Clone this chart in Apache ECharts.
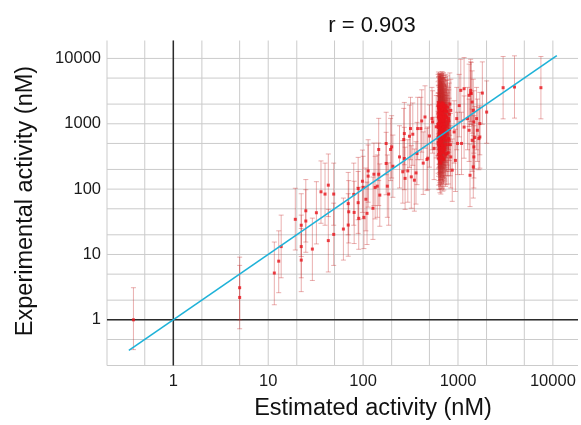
<!DOCTYPE html>
<html>
<head>
<meta charset="utf-8">
<script src="https://cdn.jsdelivr.net/npm/echarts@6/dist/echarts.min.js"></script>
<style>
html,body{margin:0;padding:0;background:#ffffff;}
#chart{width:581px;height:425px;}
</style>
</head>
<body>
<div id="chart"></div>
<script>
// ---- texts ----
const titleText = 'r = 0.903';
const xTitle = 'Estimated activity (nM)';
const yTitle = 'Experimental activity (nM)';

// ---- axis / grid values ----
const xRange = [0.2, 18400];
const yRange = [0.2, 18800];
const xGridValues = [0.2, 0.5, 1, 2, 5, 10, 20, 50, 100, 200, 500, 1000, 2000, 5000, 10000];
const yGridValues = [0.2, 0.5, 1, 2, 5, 10, 20, 50, 100, 200, 500, 1000, 2000, 5000, 10000];
const xRefValues = [1];
const yRefValues = [1];

// ---- identity line (y = x) ----
const identityLine = [[0.34, 0.34], [11000, 11000]];

// ---- observations: [estimated, experimental, errorLow, errorHigh] (nM) ----
const observations = [
  [0.38, 1.0, 0.35, 3.1],
  [5.0, 3.1, 1.0, 9.1],
  [5.0, 2.2, 0.73, 6.8],
  [11.6, 5.2, 1.7, 15.5],
  [12.9, 7.9, 2.6, 23],
  [13.7, 13.2, 4.4, 40],
  [19.3, 34.5, 11.7, 103],
  [22.3, 28, 9.3, 85],
  [22.3, 13.2, 4.4, 40],
  [22.3, 8.2, 2.7, 25],
  [24.9, 46.6, 15.5, 140],
  [24.9, 32.5, 10.8, 98],
  [29.2, 12.1, 4.0, 36],
  [32.2, 43.5, 14.5, 130],
  [36, 91, 30, 270],
  [39.7, 84, 28, 250],
  [43, 115, 38, 345],
  [43, 16.3, 5.4, 49],
  [49, 84, 28, 250],
  [49, 20.3, 6.8, 61],
  [62, 24.5, 8.2, 73],
  [69.7, 28.2, 9.4, 85],
  [70.6, 45, 15, 135],
  [69.7, 60, 20, 180],
  [80.5, 44, 14.7, 132],
  [79.7, 83, 28, 250],
  [88.7, 102, 34, 306],
  [88.7, 62, 21, 186],
  [90, 35.7, 12, 107],
  [98.4, 132, 44, 396],
  [100, 106, 35, 318],
  [102, 37, 12.3, 111],
  [107, 70, 23, 210],
  [110, 42.6, 14.2, 128],
  [113, 190, 63, 570],
  [113, 158, 53, 474],
  [127, 51, 17, 153],
  [130, 169, 56, 507],
  [134, 106, 35, 318],
  [141, 111, 37, 333],
  [146, 404, 135, 1210],
  [150, 81, 27, 243],
  [146, 169, 56, 507],
  [175, 499, 166, 1500],
  [175, 247, 82, 740],
  [180, 111, 37, 333],
  [186, 84, 28, 252],
  [195, 404, 135, 1210],
  [200, 443, 148, 1330],
  [206, 224, 75, 672],
  [242, 311, 104, 933],
  [268, 574, 191, 1720],
  [272, 708, 236, 2120],
  [262, 184, 61, 552],
  [277, 146, 49, 438],
  [296, 190, 63, 570],
  [316, 845, 282, 2540],
  [334, 692, 231, 2080],
  [322, 154, 51, 462],
  [361, 177, 59, 531],
  [347, 137, 46, 411],
  [370, 351, 117, 1050],
  [376, 845, 282, 2540],
  [471, 284, 95, 852],
  [449, 1270, 423, 3810],
  [272, 294, 98, 882],
  [308, 644, 215, 1930],
  [415, 1104, 368, 3310],
  [532, 1200, 400, 3600],
  [406, 845, 282, 2540],
  [540, 1066, 355, 3200],
  [480, 297, 99, 891],
  [430, 250, 83, 750],
  [560, 420, 140, 1260],
  [590, 900, 300, 2700],
  [500, 650, 217, 1950],
  [618, 1450, 480, 4400],
  [618, 520, 175, 1550],
  [622, 880, 290, 2700],
  [622, 2100, 700, 6200],
  [625, 340, 115, 1000],
  [625, 1250, 410, 3800],
  [628, 640, 215, 1900],
  [628, 1800, 600, 5300],
  [630, 410, 135, 1250],
  [630, 960, 320, 2900],
  [633, 1550, 520, 4600],
  [633, 290, 98, 860],
  [636, 720, 240, 2200],
  [636, 1950, 650, 5800],
  [640, 1100, 370, 3300],
  [640, 380, 125, 1150],
  [642, 530, 180, 1600],
  [642, 1650, 550, 4900],
  [645, 260, 88, 780],
  [645, 850, 280, 2600],
  [648, 1350, 450, 4000],
  [648, 600, 200, 1800],
  [650, 2000, 670, 6000],
  [650, 450, 150, 1350],
  [652, 780, 260, 2350],
  [652, 1150, 380, 3500],
  [655, 330, 110, 990],
  [655, 1900, 630, 5700],
  [658, 990, 330, 3000],
  [658, 560, 185, 1700],
  [660, 1500, 500, 4500],
  [660, 250, 84, 750],
  [663, 680, 225, 2050],
  [663, 1900, 630, 5700],
  [666, 1250, 420, 3700],
  [666, 420, 140, 1260],
  [670, 870, 290, 2600],
  [670, 1700, 570, 5100],
  [673, 360, 120, 1080],
  [673, 1050, 350, 3150],
  [676, 1400, 470, 4200],
  [676, 620, 205, 1850],
  [680, 2100, 700, 6300],
  [680, 480, 160, 1450],
  [684, 760, 255, 2300],
  [684, 310, 103, 930],
  [688, 1200, 400, 3600],
  [688, 1850, 620, 5500],
  [692, 540, 180, 1600],
  [692, 940, 315, 2800],
  [696, 1600, 530, 4800],
  [696, 380, 127, 1140],
  [700, 700, 235, 2100],
  [700, 1300, 430, 3900],
  [705, 450, 150, 1350],
  [705, 2000, 670, 6000],
  [710, 1050, 350, 3150],
  [710, 290, 97, 870],
  [715, 830, 275, 2500],
  [715, 1500, 500, 4500],
  [720, 590, 195, 1770],
  [720, 1150, 385, 3450],
  [726, 1750, 585, 5200],
  [726, 400, 133, 1200],
  [732, 920, 305, 2750],
  [732, 650, 215, 1950],
  [738, 1350, 450, 4050],
  [738, 480, 160, 1440],
  [745, 760, 255, 2280],
  [745, 1900, 630, 5700],
  [752, 560, 187, 1680],
  [752, 1100, 367, 3300],
  [760, 1250, 417, 3750],
  [760, 350, 117, 1050],
  [770, 700, 233, 2100],
  [770, 1550, 517, 4650],
  [780, 480, 160, 1440],
  [780, 990, 330, 2970],
  [795, 1200, 400, 3600],
  [795, 600, 200, 1800],
  [810, 820, 273, 2460],
  [810, 1400, 467, 4200],
  [615, 980, 325, 2950],
  [617, 1900, 630, 5700],
  [620, 610, 205, 1830],
  [621, 1300, 435, 3900],
  [624, 470, 157, 1410],
  [626, 1700, 570, 5100],
  [627, 1000, 333, 3000],
  [629, 300, 100, 900],
  [631, 1750, 583, 5250],
  [632, 720, 240, 2160],
  [634, 1200, 400, 3600],
  [635, 1950, 650, 5800],
  [637, 500, 167, 1500],
  [638, 880, 293, 2640],
  [639, 1850, 617, 5500],
  [641, 660, 220, 1980],
  [643, 1400, 467, 4200],
  [644, 350, 117, 1050],
  [646, 1050, 350, 3150],
  [647, 1600, 533, 4800],
  [649, 740, 247, 2220],
  [651, 1600, 533, 4800],
  [653, 420, 140, 1260],
  [654, 1750, 583, 5250],
  [656, 900, 300, 2700],
  [657, 1300, 433, 3900],
  [659, 660, 220, 1980],
  [661, 1800, 600, 5400],
  [662, 1100, 367, 3300],
  [664, 520, 173, 1560],
  [665, 1800, 600, 5400],
  [667, 950, 317, 2850],
  [668, 300, 100, 900],
  [669, 1500, 500, 4500],
  [671, 640, 213, 1920],
  [672, 1450, 483, 4350],
  [674, 820, 273, 2460],
  [675, 1950, 650, 5800],
  [677, 470, 157, 1410],
  [678, 1150, 383, 3450],
  [679, 1650, 550, 4950],
  [681, 720, 240, 2160],
  [683, 1650, 550, 4950],
  [685, 1000, 333, 3000],
  [686, 400, 133, 1200],
  [687, 1400, 467, 4200],
  [690, 860, 287, 2580],
  [691, 1350, 450, 4050],
  [693, 280, 93, 840],
  [694, 2000, 667, 6000],
  [697, 1100, 367, 3300],
  [698, 620, 207, 1860],
  [702, 1700, 567, 5100],
  [703, 900, 300, 2700],
  [707, 360, 120, 1080],
  [708, 1250, 417, 3750],
  [712, 1850, 617, 5500],
  [713, 680, 227, 2040],
  [717, 1000, 333, 3000],
  [722, 430, 143, 1290],
  [724, 1700, 567, 5100],
  [728, 800, 267, 2400],
  [735, 1600, 533, 4800],
  [740, 330, 110, 990],
  [748, 1300, 433, 3900],
  [755, 1550, 517, 4650],
  [765, 900, 300, 2700],
  [775, 1800, 600, 5400],
  [790, 360, 120, 1080],
  [800, 1100, 367, 3300],
  [820, 2000, 667, 6000],
  [830, 480, 160, 1440],
  [840, 1600, 530, 4800],
  [910, 750, 250, 2250],
  [970, 1200, 400, 3600],
  [1030, 1900, 630, 5700],
  [1090, 500, 167, 1500],
  [1160, 890, 297, 2670],
  [1260, 1200, 400, 3600],
  [1360, 3245, 1080, 9700],
  [1410, 560, 187, 1680],
  [1470, 311, 104, 933],
  [1340, 163, 54, 489],
  [840, 311, 104, 933],
  [870, 195, 65, 585],
  [940, 275, 92, 825],
  [805, 560, 187, 1680],
  [990, 500, 167, 1500],
  [1070, 3245, 1080, 9700],
  [1160, 3440, 1150, 10300],
  [1310, 2724, 908, 8170],
  [1360, 2950, 983, 8850],
  [1410, 2150, 717, 6450],
  [1450, 1600, 533, 4800],
  [1470, 1066, 355, 3200],
  [1600, 795, 265, 2385],
  [1700, 628, 209, 1884],
  [2990, 3565, 1190, 10700],
  [3940, 3650, 1220, 10950],
  [7480, 3565, 1190, 10700],
  [1806, 2950, 983, 8850],
  [2005, 1510, 503, 4530],
  [1700, 1006, 335, 3020],
  [1660, 594, 198, 1780],
  [1570, 1200, 400, 3600],
  [1500, 615, 205, 1845],
  [1470, 443, 148, 1330],
  [1450, 219, 73, 657],
  [1380, 2900, 967, 8700],
  [1310, 795, 265, 2385]
];

// ---- styling ----
const FONT = "'Liberation Sans', Arial, Helvetica, sans-serif";
const gridColor = '#cbcbcb';
const refColor = '#2b2b2b';
const barColor = 'rgba(200, 45, 45, 0.38)';
const pointColor = '#e8141b';
const lineColor = '#1eb2d8';

function decadeLabel(v) {
  const l = Math.log10(v);
  const r = Math.round(l);
  if (Math.abs(l - r) < 1e-6 && r >= 0) return String(Math.round(Math.pow(10, r)));
  return '';
}

function verticalLines(color, width) {
  return function (params, api) {
    const cs = params.coordSys;
    const p = api.coord([api.value(0), 1]);
    return {
      type: 'line',
      shape: { x1: p[0], y1: cs.y, x2: p[0], y2: cs.y + cs.height },
      style: { stroke: color, lineWidth: width }
    };
  };
}
function horizontalLines(color, width) {
  return function (params, api) {
    const cs = params.coordSys;
    const p = api.coord([1, api.value(1)]);
    return {
      type: 'line',
      shape: { x1: cs.x, y1: p[1], x2: cs.x + cs.width, y2: p[1] },
      style: { stroke: color, lineWidth: width }
    };
  };
}
function errorBars(params, api) {
  const x = api.value(0);
  const top = api.coord([x, api.value(2)]);
  const bot = api.coord([x, api.value(1)]);
  const w = 2.5;
  const style = { stroke: barColor, lineWidth: 1 };
  return {
    type: 'group',
    children: [
      { type: 'line', shape: { x1: top[0], y1: top[1], x2: bot[0], y2: bot[1] }, style: style },
      { type: 'line', shape: { x1: top[0] - w, y1: top[1], x2: top[0] + w, y2: top[1] }, style: style },
      { type: 'line', shape: { x1: bot[0] - w, y1: bot[1], x2: bot[0] + w, y2: bot[1] }, style: style }
    ]
  };
}

const chart = echarts.init(document.getElementById('chart'), null, { renderer: 'canvas' });

const option = {
  animation: false,
  backgroundColor: '#ffffff',
  grid: { left: 107, right: 0, top: 40.5, bottom: 59.5, containLabel: false },
  xAxis: {
    type: 'log', logBase: 10, min: xRange[0], max: xRange[1],
    axisLine: { show: false }, axisTick: { show: false }, splitLine: { show: false },
    axisLabel: { formatter: decadeLabel, color: '#1a1a1a', fontSize: 16.5, fontFamily: FONT, margin: 7, showMinLabel: true, showMaxLabel: true }
  },
  yAxis: {
    type: 'log', logBase: 10, min: yRange[0], max: yRange[1],
    axisLine: { show: false }, axisTick: { show: false }, splitLine: { show: false },
    axisLabel: { formatter: decadeLabel, color: '#1a1a1a', fontSize: 16.5, fontFamily: FONT, margin: 6 }
  },
  graphic: [
    { type: 'text', x: 372, y: 26, silent: true,
      style: { text: titleText, fill: '#111', font: '22px ' + FONT, align: 'center', verticalAlign: 'middle' } },
    { type: 'text', x: 373, y: 409, silent: true,
      style: { text: xTitle, fill: '#111', font: '23.5px ' + FONT, align: 'center', verticalAlign: 'middle' } },
    { type: 'text', x: 26, y: 201, rotation: Math.PI / 2, silent: true,
      style: { text: yTitle, fill: '#111', font: '23.5px ' + FONT, align: 'center', verticalAlign: 'middle' } }
  ],
  series: [
    { type: 'custom', silent: true, z: 1, renderItem: verticalLines(gridColor, 1),
      encode: { x: 0, y: 1 }, data: xGridValues.map(v => [v, 1]) },
    { type: 'custom', silent: true, z: 1, renderItem: horizontalLines(gridColor, 1),
      encode: { x: 0, y: 1 }, data: yGridValues.map(v => [1, v]) },
    { type: 'custom', silent: true, z: 2, renderItem: verticalLines(refColor, 1.5),
      encode: { x: 0, y: 1 }, data: xRefValues.map(v => [v, 1]) },
    { type: 'custom', silent: true, z: 2, renderItem: horizontalLines(refColor, 1.5),
      encode: { x: 0, y: 1 }, data: yRefValues.map(v => [1, v]) },
    { type: 'custom', silent: true, z: 3, renderItem: errorBars,
      encode: { x: 0, y: [1, 2] }, data: observations.map(r => [r[0], r[2], r[3]]) },
    { type: 'scatter', silent: true, z: 4, symbol: 'rect', symbolSize: 3,
      itemStyle: { color: pointColor }, data: observations.map(r => [r[0], r[1]]) },
    { type: 'line', silent: true, z: 5, showSymbol: false, symbol: 'none',
      lineStyle: { color: lineColor, width: 1.6 }, data: identityLine }
  ]
};

chart.setOption(option);
</script>
</body>
</html>
